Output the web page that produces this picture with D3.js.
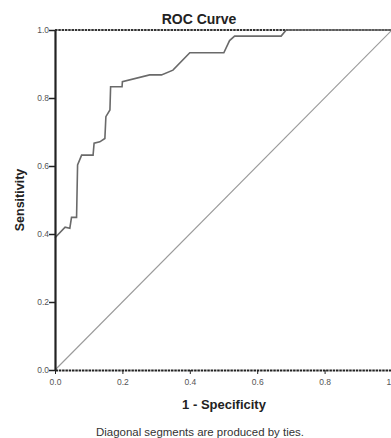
<!DOCTYPE html>
<html>
<head>
<meta charset="utf-8">
<script src="https://cdn.jsdelivr.net/npm/d3@7"></script>
<style>
  body { margin: 0; background: #fff; }
  svg { display: block; }
  .axis path, .axis line { stroke: #222; }
  .axis text { fill: #555; font-family: "Liberation Sans", Arial, sans-serif; font-size: 8.5px; }
</style>
</head>
<body>
<svg id="chart" width="391" height="438"></svg>
<script>
// ROC points (1 - specificity, sensitivity)
var fpr = [0, 0.030, 0.044, 0.049, 0.064, 0.067, 0.079, 0.113, 0.116, 0.133, 0.148, 0.151,
           0.163, 0.165, 0.199, 0.200, 0.281, 0.316, 0.350, 0.400, 0.501, 0.518, 0.533,
           0.671, 0.686, 1.0];
var tpr = [0.389, 0.420, 0.417, 0.449, 0.449, 0.603, 0.632, 0.632, 0.667, 0.671, 0.681, 0.745,
           0.765, 0.833, 0.833, 0.848, 0.868, 0.868, 0.882, 0.933, 0.933, 0.969, 0.982,
           0.982, 1.0, 1.0];
var refLine = [0, 1];
var ticks = [0, 0.2, 0.4, 0.6, 0.8, 1.0];

var svg = d3.select("#chart");
var x = d3.scaleLinear().domain([0, 1]).range([55, 392]);
var y = d3.scaleLinear().domain([0, 1]).range([370, 30]);

var data = fpr.map(function(d, i) { return { x: d, y: tpr[i] }; });

// reference diagonal
svg.append("line")
  .attr("x1", x(refLine[0])).attr("y1", y(refLine[0]))
  .attr("x2", x(refLine[1])).attr("y2", y(refLine[1]))
  .attr("stroke", "#9a9a9a")
  .attr("stroke-width", 1.1);

// frame top
svg.append("line")
  .attr("x1", x(0)).attr("x2", x(1))
  .attr("y1", y(1)).attr("y2", y(1))
  .attr("stroke", "#333")
  .attr("stroke-width", 1.8)
  .attr("stroke-dasharray", "2.5,0.8");

// ROC curve
var line = d3.line()
  .x(function(d) { return x(d.x); })
  .y(function(d) { return y(d.y); });

svg.append("path")
  .datum(data)
  .attr("d", line)
  .attr("fill", "none")
  .attr("stroke", "#6a6a6a")
  .attr("stroke-width", 1.6);

// axes
var xAxis = svg.append("g")
  .attr("class", "axis")
  .attr("transform", "translate(0," + y(0) + ")")
  .call(d3.axisBottom(x).tickValues(ticks).tickFormat(d3.format(".1f")).tickSize(4).tickSizeOuter(0));
xAxis.select(".domain").attr("stroke-width", 2).attr("stroke-dasharray", "2.5,0.8");
xAxis.selectAll("text").attr("dy", "0.9em");

var yAxis = svg.append("g")
  .attr("class", "axis")
  .attr("transform", "translate(" + x(0) + ",0)")
  .call(d3.axisLeft(y).tickValues(ticks).tickFormat(d3.format(".1f")).tickSize(6).tickSizeOuter(0));
yAxis.select(".domain").attr("stroke-width", 2.2);
yAxis.selectAll(".tick line").attr("stroke-width", 1.5);
yAxis.selectAll("text").attr("x", -6);

// titles
svg.append("text")
  .attr("x", 199).attr("y", 24)
  .attr("text-anchor", "middle")
  .style("font-family", "Liberation Sans, Arial, sans-serif")
  .style("font-weight", "bold")
  .style("font-size", "14px")
  .attr("fill", "#222")
  .text("ROC Curve");

svg.append("text")
  .attr("x", 224).attr("y", 409)
  .attr("text-anchor", "middle")
  .style("font-family", "Liberation Sans, Arial, sans-serif")
  .style("font-weight", "bold")
  .style("font-size", "13px")
  .attr("fill", "#222")
  .text("1 - Specificity");

svg.append("text")
  .attr("transform", "translate(24,200) rotate(-90)")
  .attr("text-anchor", "middle")
  .style("font-family", "Liberation Sans, Arial, sans-serif")
  .style("font-weight", "bold")
  .style("font-size", "12.5px")
  .attr("fill", "#222")
  .text("Sensitivity");

svg.append("text")
  .attr("x", 200).attr("y", 436)
  .attr("text-anchor", "middle")
  .attr("textLength", 208)
  .attr("lengthAdjust", "spacingAndGlyphs")
  .style("font-family", "Liberation Sans, Arial, sans-serif")
  .style("font-size", "11px")
  .attr("fill", "#333")
  .text("Diagonal segments are produced by ties.");
</script>
</body>
</html>
